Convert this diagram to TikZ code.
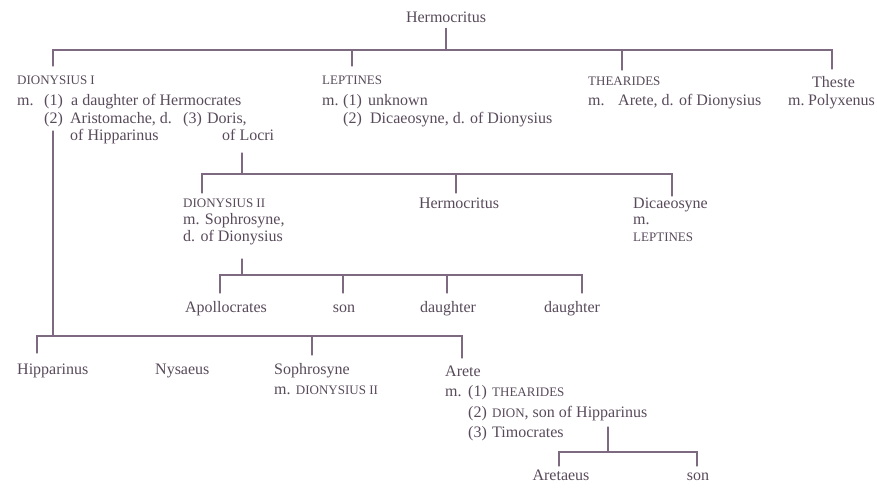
\documentclass[tikz,border=0pt]{standalone}
\usepackage{fontspec}
\setmainfont{Liberation Serif}
\usepackage{xcolor}
\usepackage{tikz}
\definecolor{inkc}{RGB}{88,74,90}
\definecolor{rulec}{RGB}{126,106,128}
\newcommand\capsname[1]{{\fontsize{13}{15}\selectfont #1}}
\tikzset{
  gText/.style={anchor=base west,inner sep=0pt,text=inkc,
        font=\fontsize{16}{18}\selectfont},
  gMid/.style={gText,anchor=base},
  gLine/.style={draw=rulec,line width=1.1pt,line cap=round},
}

\begin{document}
\begin{tikzpicture}[x=1pt,y=-1pt]
\useasboundingbox (0,0) rectangle (877,490);
% first generation
\node[gMid]  (herm) at (446,22)  {Hermocritus};
\node[gText] (dA)   at (17,84)   {\capsname{DIONYSIUS I}};
\node[gText] (dAm1) at (17,105)  {\makebox[27pt][l]{m.}\makebox[27pt][l]{(1)}a daughter of Hermocrates};
\node[gText] (dAm2) at (44,123)  {\makebox[26pt][l]{(2)}Aristomache, d.};
\node[gText] (dAm3) at (183,123) {\makebox[24pt][l]{(3)}Doris,};
\node[gText] (hipp) at (70,140)  {of Hipparinus};
\node[gText] (locr) at (222,140) {of Locri};
\node[gText] (lp)   at (322,84)  {\capsname{LEPTINES}};
\node[gText] (lpm1) at (322,105) {\makebox[21pt][l]{m.}\makebox[25pt][l]{(1)}unknown};
\node[gText] (lpm2) at (343,123) {\makebox[27pt][l]{(2)}Dicaeosyne, d. of Dionysius};
\node[gText] (th)   at (588,85)  {\capsname{THEARIDES}};
\node[gText] (thm)  at (588,105) {\makebox[30pt][l]{m.}Arete, d. of Dionysius};
\node[gText] (ts)   at (812,87)  {Theste};
\node[gText] (tsm)  at (788,105) {\makebox[20pt][l]{m.}Polyxenus};

% children of Dionysius I and Doris
\node[gText] (d2)   at (183,207) {\capsname{DIONYSIUS II}};
\node[gText] (d2m)  at (183,224) {m. Sophrosyne,};
\node[gText] (d2d)  at (183,241) {d. of Dionysius};
\node[gMid]  (hm2)  at (459,208) {Hermocritus};
\node[gText] (dc)   at (633,208) {Dicaeosyne};
\node[gText] (dcm)  at (633,224) {m.};
\node[gText] (dcl)  at (633,241) {\capsname{LEPTINES}};

% children of Dionysius II
\node[gMid]  (apo)  at (226,312) {Apollocrates};
\node[gMid]  (son1) at (344,312) {son};
\node[gMid]  (dau1) at (448,312) {daughter};
\node[gMid]  (dau2) at (572,312) {daughter};

% children of Dionysius I and Aristomache
\node[gText] (hip)  at (17,374)  {Hipparinus};
\node[gText] (nys)  at (155,374) {Nysaeus};
\node[gText] (sop)  at (274,374) {Sophrosyne};
\node[gText] (sopm) at (274,394) {m. \capsname{DIONYSIUS II}};
\node[gText] (ar)   at (445,376) {Arete};
\node[gText] (arm1) at (445,396) {\makebox[23pt][l]{m.}\makebox[24pt][l]{(1)}\capsname{THEARIDES}};
\node[gText] (arm2) at (468,417) {\makebox[24pt][l]{(2)}\capsname{DION}, son of Hipparinus};
\node[gText] (arm3) at (468,437) {\makebox[24pt][l]{(3)}Timocrates};

% children of Arete
\node[gMid]  (aret) at (561,480) {Aretaeus};
\node[gMid]  (son2) at (698,480) {son};

% joints and drop ends
\coordinate (j1) at (446,50);
\coordinate (t-dA) at (53,66);
\coordinate (t-lp) at (352,66);
\coordinate (t-th) at (622,70);
\coordinate (t-ts) at (832,69);
\coordinate (s-dor) at (242,153);
\coordinate (j2) at (242,174);
\coordinate (t-d2) at (202,193);
\coordinate (t-hm2) at (456,193);
\coordinate (t-dc) at (672,196);
\coordinate (s-d2) at (242,259);
\coordinate (j3) at (242,275);
\coordinate (t-apo) at (220,293);
\coordinate (t-son1) at (343,293);
\coordinate (t-dau1) at (447,293);
\coordinate (t-dau2) at (582,293);
\coordinate (s-dA) at (53,131);
\coordinate (j4) at (53,336);
\coordinate (t-hip) at (37,353);
\coordinate (t-sop) at (312,355);
\coordinate (t-ar) at (462,358);
\coordinate (s-ar) at (608,427);
\coordinate (j5) at (608,452);
\coordinate (t-aret) at (559,466);
\coordinate (t-son2) at (697,466);

\draw[gLine,shorten <=6pt] (herm.south) -- (j1);
\draw[gLine] (t-dA) |- (j1) -| (t-ts);
\draw[gLine] (t-lp) -- (t-lp |- j1);
\draw[gLine] (t-th) -- (t-th |- j1);

\draw[gLine] (s-dor) -- (j2);
\draw[gLine] (t-d2) |- (j2) -| (t-dc);
\draw[gLine] (t-hm2) -- (t-hm2 |- j2);

\draw[gLine] (s-d2) -- (j3);
\draw[gLine] (t-apo) |- (j3) -| (t-dau2);
\draw[gLine] (t-son1) -- (t-son1 |- j3);
\draw[gLine] (t-dau1) -- (t-dau1 |- j3);

\draw[gLine] (s-dA) -- (j4);
\draw[gLine] (t-hip) |- (j4) -| (t-ar);
\draw[gLine] (t-sop) -- (t-sop |- j4);

\draw[gLine] (s-ar) -- (j5);
\draw[gLine] (t-aret) |- (j5) -| (t-son2);
\end{tikzpicture}
\end{document}
